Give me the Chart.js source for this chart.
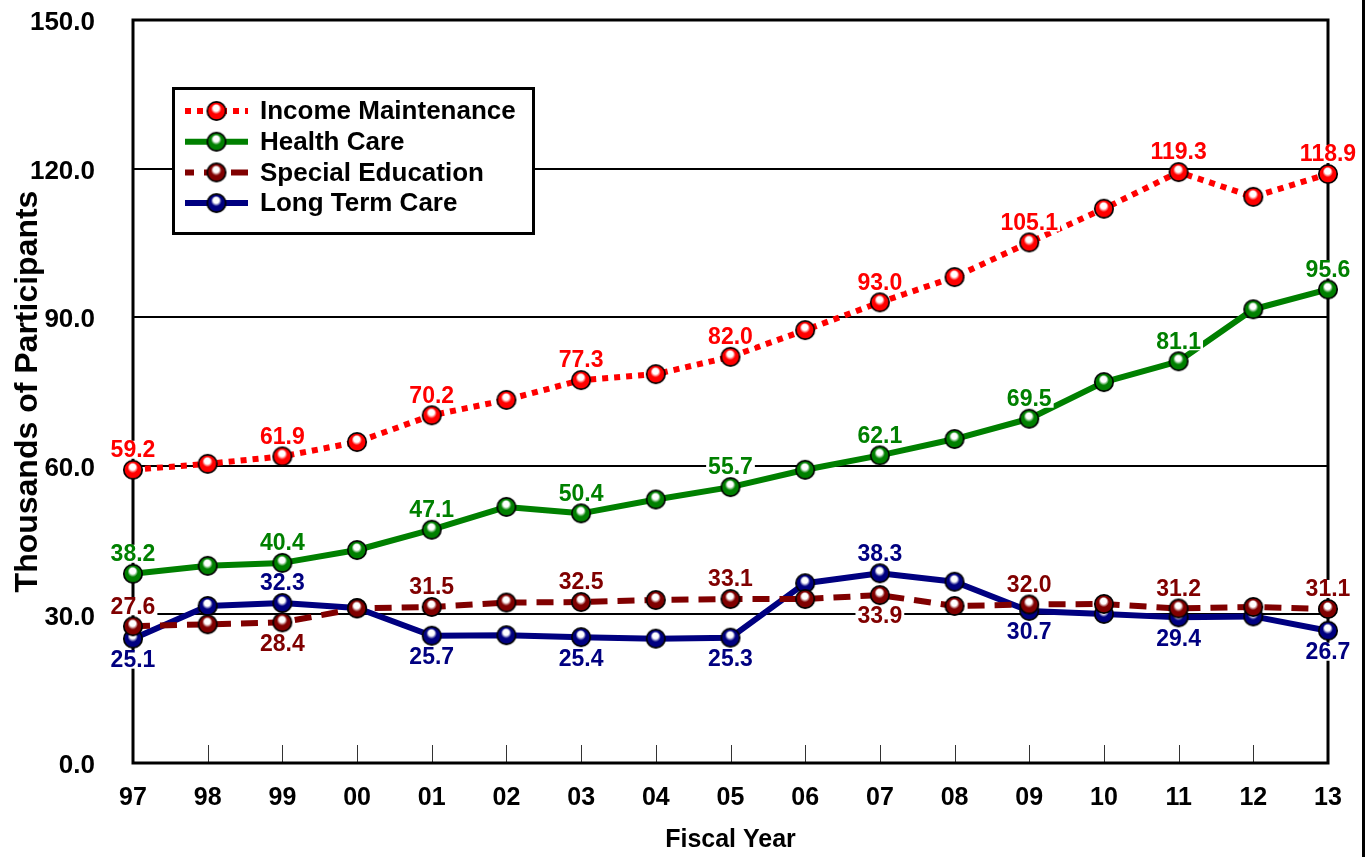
<!DOCTYPE html>
<html><head><meta charset="utf-8">
<script src="https://cdn.jsdelivr.net/npm/chart.js@4.4.0/dist/chart.umd.min.js"></script>
<style>html,body{margin:0;padding:0;background:#fff;}#wrap{width:1368px;height:857px;position:relative;}</style>
</head><body><div id="wrap"><canvas id="c"></canvas></div>
<script>
// ---- Data ----
const years = ['97','98','99','00','01','02','03','04','05','06','07','08','09','10','11','12','13'];
const incomeMaintenance = [59.2, 60.4, 61.9, 64.8, 70.2, 73.3, 77.3, 78.5, 82.0, 87.4, 93.0, 98.1, 105.1, 111.9, 119.3, 114.3, 118.9];
const healthCare        = [38.2, 39.8, 40.4, 43.0, 47.1, 51.7, 50.4, 53.2, 55.7, 59.2, 62.1, 65.4, 69.5, 76.9, 81.1, 91.6, 95.6];
const specialEducation  = [27.6, 28.0, 28.4, 31.2, 31.5, 32.4, 32.5, 32.9, 33.1, 33.1, 33.9, 31.7, 32.0, 32.1, 31.2, 31.5, 31.1];
const longTermCare      = [25.1, 31.7, 32.3, 31.3, 25.7, 25.8, 25.4, 25.1, 25.3, 36.3, 38.3, 36.6, 30.7, 30.1, 29.4, 29.6, 26.7];
const yTickValues = [0, 30, 60, 90, 120, 150];
const seriesNames = ['Income Maintenance', 'Health Care', 'Special Education', 'Long Term Care'];

const FONT = '"Liberation Sans", Arial, Helvetica, sans-serif';

function ball(color, dark) {
  const s = 24, r = 10;
  const c = document.createElement('canvas');
  c.width = s; c.height = s;
  const g = c.getContext('2d');
  const cx = s / 2, cy = s / 2;
  const grd = g.createRadialGradient(cx - 0.5, cy - 4, 0.3, cx, cy, r);
  grd.addColorStop(0, '#ffffff');
  grd.addColorStop(0.28, '#ffffff');
  grd.addColorStop(0.5, color);
  grd.addColorStop(0.85, color);
  grd.addColorStop(1, dark);
  g.beginPath(); g.arc(cx, cy, r - 0.8, 0, Math.PI * 2);
  g.fillStyle = grd; g.fill();
  g.lineWidth = 1.7; g.strokeStyle = '#000'; g.stroke();
  return c;
}

const styles = [
  {color: '#FF0000', dark: '#900000', dash: [6, 6], below: []},
  {color: '#008000', dark: '#003000', dash: [], below: []},
  {color: '#800000', dark: '#300000', dash: [17, 10], below: [2, 10]},
  {color: '#000080', dark: '#000030', dash: [], below: [0, 4, 6, 8, 12, 14, 16]}
];
const seriesData = [incomeMaintenance, healthCare, specialEducation, longTermCare];

const datasets = seriesData.map((d, i) => ({
  label: seriesNames[i],
  data: d,
  borderColor: styles[i].color,
  backgroundColor: styles[i].color,
  borderWidth: 6,
  borderDash: styles[i].dash,
  borderCapStyle: 'butt',
  borderJoinStyle: 'round',
  tension: 0,
  fill: false,
  pointStyle: ball(styles[i].color, styles[i].dark),
  pointRadius: 10,
  pointHoverRadius: 10,
  _below: styles[i].below
}));

const framePlugin = {
  id: 'frame',
  beforeDatasetsDraw(chart) {
    const {ctx, chartArea: a, scales: {x}} = chart;
    ctx.save();
    ctx.strokeStyle = '#333';
    ctx.lineWidth = 1;
    for (let i = 1; i < years.length - 1; i++) {
      const px = Math.round(x.getPixelForTick(i)) + 0.5;
      ctx.beginPath(); ctx.moveTo(px, a.bottom - 18); ctx.lineTo(px, a.bottom); ctx.stroke();
    }
    ctx.strokeStyle = '#000';
    ctx.lineWidth = 3;
    ctx.strokeRect(a.left, a.top, a.right - a.left, a.bottom - a.top);
    ctx.beginPath(); ctx.moveTo(1363.5, 0); ctx.lineTo(1363.5, chart.height); ctx.stroke();
    ctx.restore();
  },
  afterDatasetsDraw(chart) {
    const {ctx} = chart;
    ctx.save();
    // legend
    const lx = 173.5, ly = 88.5, lw = 360, lh = 145;
    ctx.fillStyle = '#fff';
    ctx.fillRect(lx, ly, lw, lh);
    ctx.strokeStyle = '#000'; ctx.lineWidth = 3;
    ctx.strokeRect(lx, ly, lw, lh);
    ctx.font = 'bold 26px ' + FONT;
    ctx.textBaseline = 'middle';
    ctx.textAlign = 'left';
    chart.data.datasets.forEach((ds, i) => {
      const cy = 111 + i * 30.7;
      ctx.save();
      ctx.strokeStyle = ds.borderColor;
      ctx.lineWidth = 6;
      ctx.lineCap = 'butt';
      ctx.setLineDash(ds.borderDash || []);
      if (i === 2) ctx.lineDashOffset = 8;
      ctx.beginPath(); ctx.moveTo(185, cy); ctx.lineTo(248, cy); ctx.stroke();
      ctx.restore();
      ctx.drawImage(ds.pointStyle, 216.5 - 12, cy - 12);
      ctx.fillStyle = '#000';
      ctx.fillText(ds.label, 260, cy + 1);
    });
    // data labels (every second year)
    ctx.font = 'bold 23px ' + FONT;
    ctx.textAlign = 'center';
    ctx.textBaseline = 'middle';
    chart.data.datasets.forEach((ds, di) => {
      const meta = chart.getDatasetMeta(di);
      meta.data.forEach((pt, idx) => {
        if (idx % 2 !== 0) return;
        const txt = ds.data[idx].toFixed(1);
        const below = ds._below.includes(idx);
        const cy = pt.y + (below ? 21 : -20);
        const w = ctx.measureText(txt).width;
        ctx.fillStyle = '#fff';
        ctx.fillRect(pt.x - w / 2 - 2, cy - 9, w + 4, 18);
        ctx.fillStyle = ds.borderColor;
        ctx.fillText(txt, pt.x, cy + 1);
      });
    });
    ctx.restore();
  }
};

new Chart(document.getElementById('c'), {
  type: 'line',
  data: {labels: years, datasets: datasets},
  options: {
    responsive: true,
    maintainAspectRatio: false,
    devicePixelRatio: 1,
    animation: false,
    events: [],
    layout: {padding: {top: 20, right: 40, left: 0, bottom: 0}},
    plugins: {legend: {display: false}, tooltip: {enabled: false}, title: {display: false}},
    scales: {
      x: {
        type: 'category',
        offset: false,
        grid: {display: false, drawTicks: false},
        border: {display: false},
        ticks: {color: '#000', font: {family: FONT, size: 25, weight: 'bold'}, padding: 20, maxRotation: 0, autoSkip: false},
        title: {display: true, text: 'Fiscal Year', color: '#000', font: {family: FONT, size: 25, weight: 'bold'}, padding: {top: 0, bottom: 2}},
        afterFit(scale) { scale.height = 94; scale.paddingLeft = 0; scale.paddingRight = 0; }
      },
      y: {
        min: 0, max: 150,
        afterBuildTicks(scale) { scale.ticks = yTickValues.map(v => ({value: v})); },
        grid: {color: '#000', lineWidth: 2, drawTicks: false},
        border: {display: false},
        ticks: {color: '#000', font: {family: FONT, size: 26, weight: 'bold'}, padding: 38, labelOffset: 3, callback: v => Number(v).toFixed(1)},
        title: {display: true, text: 'Thousands of Participants', color: '#000', font: {family: FONT, size: 32, weight: 'bold'}, padding: {top: 9, bottom: 0}},
        afterFit(scale) { scale.width = 133; scale.paddingTop = 0; scale.paddingBottom = 0; }
      }
    }
  },
  plugins: [framePlugin]
});
</script>
</body></html>
